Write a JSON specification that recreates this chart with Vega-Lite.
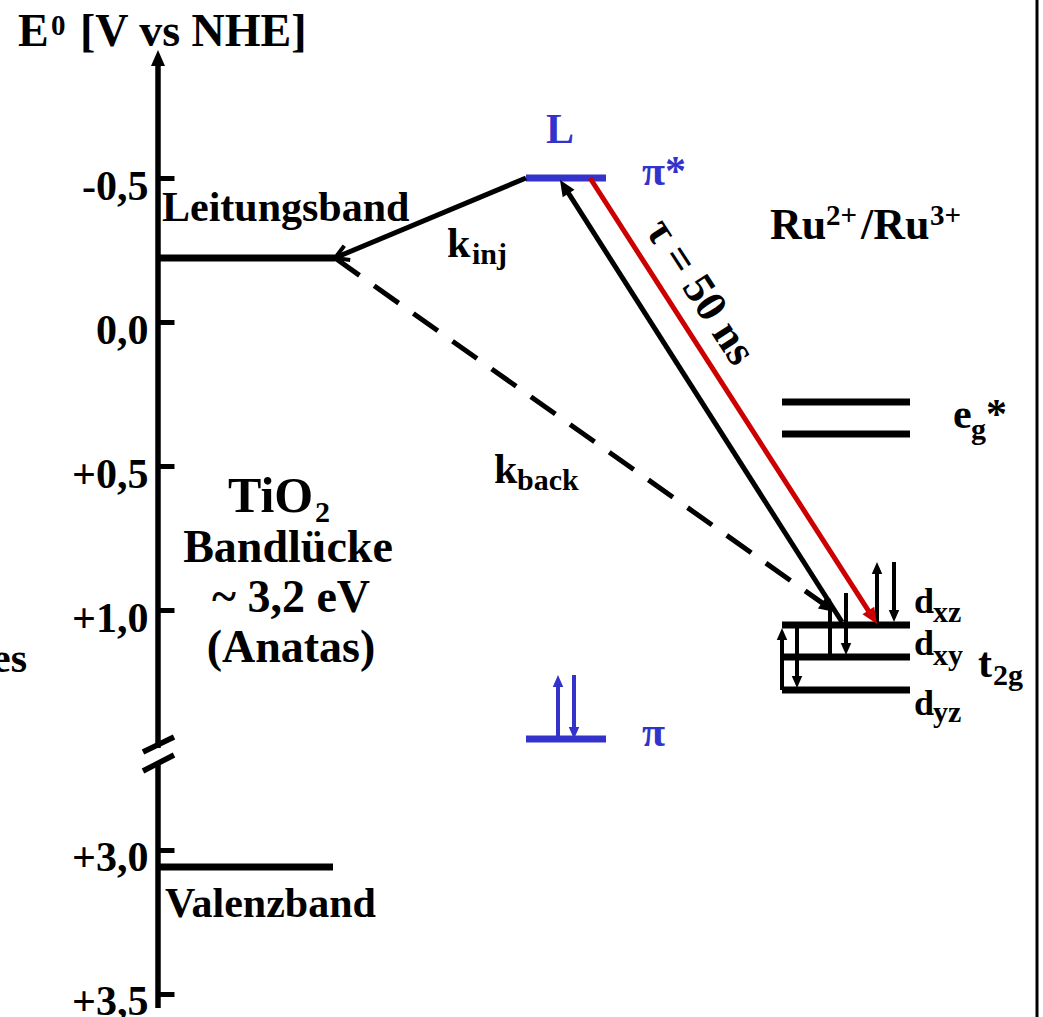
{
  "$schema": "https://vega.github.io/schema/vega-lite/v6.json",
  "width": 1043,
  "height": 1017,
  "padding": 0,
  "autosize": {"type": "none"},
  "background": "white",
  "config": {"view": {"stroke": null}},
  "datasets": {
    "seg": [
      {"g": "axis", "x": 158, "y": -0.9097, "x2": 158, "y2": 1.4792},
      {"g": "axis", "x": 158, "y": 1.5382, "x2": 158, "y2": 2.3819},
      {"g": "axis", "x": 143, "y": 1.4931, "x2": 174, "y2": 1.441},
      {"g": "axis", "x": 143, "y": 1.559, "x2": 174, "y2": 1.5035},
      {"g": "level", "x": 158, "y": -0.2222, "x2": 335, "y2": -0.2222},
      {"g": "level", "x": 158, "y": 1.8924, "x2": 333, "y2": 1.8924},
      {"g": "level", "x": 782, "y": 0.2778, "x2": 910, "y2": 0.2778},
      {"g": "level", "x": 782, "y": 0.3889, "x2": 910, "y2": 0.3889},
      {"g": "level", "x": 782, "y": 1.0521, "x2": 910, "y2": 1.0521},
      {"g": "level", "x": 782, "y": 1.1632, "x2": 910, "y2": 1.1632},
      {"g": "level", "x": 782, "y": 1.2778, "x2": 910, "y2": 1.2778},
      {"g": "blue", "x": 526, "y": -0.5, "x2": 606, "y2": -0.5},
      {"g": "blue", "x": 526, "y": 1.4479, "x2": 606, "y2": 1.4479},
      {"g": "arrow", "x": 526, "y": -0.5, "x2": 337, "y2": -0.2257},
      {"g": "arrow", "x": 842, "y": 1.0417, "x2": 564.3, "y2": -0.4698},
      {"g": "red", "x": 590, "y": -0.5, "x2": 872.7, "y2": 1.0253},
      {"g": "dash", "x": 335, "y": -0.2222, "x2": 828.5, "y2": 0.991},
      {"g": "spin", "x": 877, "y": 1.0521, "x2": 877, "y2": 0.8611},
      {"g": "spin", "x": 894, "y": 0.8333, "x2": 894, "y2": 1.0139},
      {"g": "spin", "x": 830, "y": 1.1632, "x2": 830, "y2": 0.9861},
      {"g": "spin", "x": 846, "y": 0.941, "x2": 846, "y2": 1.1285},
      {"g": "spin", "x": 782, "y": 1.2778, "x2": 782, "y2": 1.0903},
      {"g": "spin", "x": 797, "y": 1.0625, "x2": 797, "y2": 1.2431},
      {"g": "bspin", "x": 558, "y": 1.4479, "x2": 558, "y2": 1.2535},
      {"g": "bspin", "x": 574, "y": 1.2257, "x2": 574, "y2": 1.4201},
      {"g": "frame", "x": 1037, "y": -1.1181, "x2": 1037, "y2": 2.4132}
    ],
    "head": [
      {"g": "bk", "x": 158, "y": -0.9444, "a": 0},
      {"g": "bk", "x": 835, "y": 1.0069, "a": 125.3},
      {"g": "bk", "x": 560, "y": -0.4931, "a": 327.5},
      {"g": "rd", "x": 877, "y": 1.0486, "a": 147.2},
      {"g": "chev", "x": 335, "y": -0.2222, "a": 247.3},
      {"g": "bs", "x": 877, "y": 0.8333, "a": 0},
      {"g": "bs", "x": 894, "y": 1.0417, "a": 180},
      {"g": "bs", "x": 830, "y": 0.9583, "a": 0},
      {"g": "bs", "x": 846, "y": 1.1563, "a": 180},
      {"g": "bs", "x": 782, "y": 1.0625, "a": 0},
      {"g": "bs", "x": 797, "y": 1.2708, "a": 180},
      {"g": "bl", "x": 558, "y": 1.2257, "a": 0},
      {"g": "bl", "x": 574, "y": 1.4479, "a": 180}
    ],
    "txt": [
      {"g": "title", "t": "E", "x": 18, "y": -0.9583},
      {"g": "title", "t": "[V vs NHE]", "x": 80, "y": -0.9583},
      {"g": "sup", "t": "0", "x": 51, "y": -0.9965},
      {"g": "sup", "t": "2+", "x": 826, "y": -0.3368},
      {"g": "sup", "t": "3+", "x": 930, "y": -0.3368},
      {"g": "lab", "t": "Leitungsband", "x": 162, "y": -0.3507},
      {"g": "lab", "t": "Valenzband", "x": 165, "y": 2.066},
      {"g": "lab", "t": "k", "x": 447, "y": -0.2257},
      {"g": "lab", "t": "k", "x": 494, "y": 0.559},
      {"g": "ru", "t": "Ru", "x": 770, "y": -0.2882},
      {"g": "ru", "t": "/Ru", "x": 861, "y": -0.2882},
      {"g": "lab", "t": "e", "x": 953, "y": 0.3681},
      {"g": "lab", "t": "*", "x": 986, "y": 0.3681},
      {"g": "lab", "t": "t", "x": 978, "y": 1.2326},
      {"g": "lab", "t": "es", "x": -8, "y": 1.2153},
      {"g": "d", "t": "d", "x": 914, "y": 1.0104},
      {"g": "d", "t": "d", "x": 914, "y": 1.1563},
      {"g": "d", "t": "d", "x": 914, "y": 1.3646},
      {"g": "sub", "t": "inj", "x": 472, "y": -0.2014},
      {"g": "sub", "t": "back", "x": 517, "y": 0.5833},
      {"g": "sub", "t": "g", "x": 971, "y": 0.4063},
      {"g": "sub", "t": "2g", "x": 993, "y": 1.2604},
      {"g": "sub", "t": "xz", "x": 933, "y": 1.0417},
      {"g": "sub", "t": "xy", "x": 933, "y": 1.191},
      {"g": "sub", "t": "yz", "x": 933, "y": 1.3889},
      {"g": "sub", "t": "2", "x": 315, "y": 0.6944},
      {"g": "big", "t": "TiO", "x": 228, "y": 0.6597},
      {"g": "center", "t": "Bandlücke", "x": 288, "y": 0.8333},
      {"g": "center", "t": "~ 3,2 eV", "x": 291, "y": 1.0069},
      {"g": "center", "t": "(Anatas)", "x": 291, "y": 1.1806},
      {"g": "blue", "t": "L", "x": 546, "y": -0.6215},
      {"g": "blue", "t": "π*", "x": 642, "y": -0.4757},
      {"g": "blue", "t": "π", "x": 642, "y": 1.4722},
      {"g": "tau", "t": "τ = 50 ns", "x": 700, "y": -0.1042}
    ]
  },
  "encoding": {
    "x": {"field": "x", "type": "quantitative", "scale": {"domain": [0, 1043], "nice": false, "zero": false}, "axis": null},
    "y": {
      "field": "y", "type": "quantitative",
      "scale": {"domain": [-1.1181, 2.4132], "reverse": true, "nice": false, "zero": false},
      "axis": {
        "orient": "left", "offset": -158, "title": null, "domain": false, "grid": false,
        "values": [-0.5, 0, 0.5, 1, 1.8333, 2.3333],
        "labelExpr": "datum.value < -0.4 ? '-0,5' : datum.value < 0.25 ? '0,0' : datum.value < 0.75 ? '+0,5' : datum.value < 1.4 ? '+1,0' : datum.value < 2 ? '+3,0' : '+3,5'",
        "ticks": true, "tickSize": -16, "tickWidth": 5, "tickColor": "black",
        "labelFont": "Liberation Serif", "labelFontWeight": "bold", "labelFontSize": 42, "labelColor": "black",
        "labelPadding": 26, "labelOffset": 8, "labelBaseline": "middle", "labelAlign": "right"
      }
    }
  },
  "layer": [
    {"data": {"name": "seg"}, "transform": [{"filter": "datum.g == 'axis'"}], "mark": {"type": "rule", "color": "black", "strokeWidth": 5.5}, "encoding": {"x2": {"field": "x2"}, "y2": {"field": "y2"}}},
    {"data": {"name": "seg"}, "transform": [{"filter": "datum.g == 'level'"}], "mark": {"type": "rule", "color": "black", "strokeWidth": 7}, "encoding": {"x2": {"field": "x2"}, "y2": {"field": "y2"}}},
    {"data": {"name": "seg"}, "transform": [{"filter": "datum.g == 'blue'"}], "mark": {"type": "rule", "color": "#3333cc", "strokeWidth": 7}, "encoding": {"x2": {"field": "x2"}, "y2": {"field": "y2"}}},
    {"data": {"name": "seg"}, "transform": [{"filter": "datum.g == 'arrow'"}], "mark": {"type": "rule", "color": "black", "strokeWidth": 5}, "encoding": {"x2": {"field": "x2"}, "y2": {"field": "y2"}}},
    {"data": {"name": "seg"}, "transform": [{"filter": "datum.g == 'red'"}], "mark": {"type": "rule", "color": "#cc0000", "strokeWidth": 5}, "encoding": {"x2": {"field": "x2"}, "y2": {"field": "y2"}}},
    {"data": {"name": "seg"}, "transform": [{"filter": "datum.g == 'dash'"}], "mark": {"type": "rule", "color": "black", "strokeWidth": 5, "strokeDash": [30, 18]}, "encoding": {"x2": {"field": "x2"}, "y2": {"field": "y2"}}},
    {"data": {"name": "seg"}, "transform": [{"filter": "datum.g == 'spin'"}], "mark": {"type": "rule", "color": "black", "strokeWidth": 4}, "encoding": {"x2": {"field": "x2"}, "y2": {"field": "y2"}}},
    {"data": {"name": "seg"}, "transform": [{"filter": "datum.g == 'bspin'"}], "mark": {"type": "rule", "color": "#3333cc", "strokeWidth": 4}, "encoding": {"x2": {"field": "x2"}, "y2": {"field": "y2"}}},
    {"data": {"name": "seg"}, "transform": [{"filter": "datum.g == 'frame'"}], "mark": {"type": "rule", "color": "black", "strokeWidth": 3}, "encoding": {"x2": {"field": "x2"}, "y2": {"field": "y2"}}},
    {"data": {"name": "head"}, "transform": [{"filter": "datum.g == 'bk'"}], "mark": {"type": "point", "shape": "M0,0L0.875,2L-0.875,2Z", "filled": true, "color": "black", "opacity": 1, "size": 256, "strokeWidth": 0}, "encoding": {"angle": {"field": "a", "type": "quantitative", "scale": null}}},
    {"data": {"name": "head"}, "transform": [{"filter": "datum.g == 'rd'"}], "mark": {"type": "point", "shape": "M0,0L0.875,2L-0.875,2Z", "filled": true, "color": "#cc0000", "opacity": 1, "size": 256, "strokeWidth": 0}, "encoding": {"angle": {"field": "a", "type": "quantitative", "scale": null}}},
    {"data": {"name": "head"}, "transform": [{"filter": "datum.g == 'bs'"}], "mark": {"type": "point", "shape": "M0,0L0.875,2L-0.875,2Z", "filled": true, "color": "black", "opacity": 1, "size": 144, "strokeWidth": 0}, "encoding": {"angle": {"field": "a", "type": "quantitative", "scale": null}}},
    {"data": {"name": "head"}, "transform": [{"filter": "datum.g == 'bl'"}], "mark": {"type": "point", "shape": "M0,0L0.875,2L-0.875,2Z", "filled": true, "color": "#3333cc", "opacity": 1, "size": 144, "strokeWidth": 0}, "encoding": {"angle": {"field": "a", "type": "quantitative", "scale": null}}},
    {"data": {"name": "head"}, "transform": [{"filter": "datum.g == 'chev'"}], "mark": {"type": "point", "shape": "M1.1,1.9L0,0L-1.1,1.9", "filled": false, "color": "black", "opacity": 1, "size": 196, "strokeWidth": 4, "strokeCap": "butt"}, "encoding": {"angle": {"field": "a", "type": "quantitative", "scale": null}}},
    {"data": {"name": "txt"}, "transform": [{"filter": "datum.g == 'title'"}], "mark": {"type": "text", "font": "Liberation Serif", "fontWeight": "bold", "fontSize": 46, "align": "left", "baseline": "alphabetic", "color": "black"}, "encoding": {"text": {"field": "t"}}},
    {"data": {"name": "txt"}, "transform": [{"filter": "datum.g == 'sup'"}], "mark": {"type": "text", "font": "Liberation Serif", "fontWeight": "bold", "fontSize": 29, "align": "left", "baseline": "alphabetic", "color": "black"}, "encoding": {"text": {"field": "t"}}},
    {"data": {"name": "txt"}, "transform": [{"filter": "datum.g == 'lab'"}], "mark": {"type": "text", "font": "Liberation Serif", "fontWeight": "bold", "fontSize": 42, "align": "left", "baseline": "alphabetic", "color": "black"}, "encoding": {"text": {"field": "t"}}},
    {"data": {"name": "txt"}, "transform": [{"filter": "datum.g == 'ru'"}], "mark": {"type": "text", "font": "Liberation Serif", "fontWeight": "bold", "fontSize": 44, "align": "left", "baseline": "alphabetic", "color": "black"}, "encoding": {"text": {"field": "t"}}},
    {"data": {"name": "txt"}, "transform": [{"filter": "datum.g == 'd'"}], "mark": {"type": "text", "font": "Liberation Serif", "fontWeight": "bold", "fontSize": 36, "align": "left", "baseline": "alphabetic", "color": "black"}, "encoding": {"text": {"field": "t"}}},
    {"data": {"name": "txt"}, "transform": [{"filter": "datum.g == 'sub'"}], "mark": {"type": "text", "font": "Liberation Serif", "fontWeight": "bold", "fontSize": 30, "align": "left", "baseline": "alphabetic", "color": "black"}, "encoding": {"text": {"field": "t"}}},
    {"data": {"name": "txt"}, "transform": [{"filter": "datum.g == 'big'"}], "mark": {"type": "text", "font": "Liberation Serif", "fontWeight": "bold", "fontSize": 50, "align": "left", "baseline": "alphabetic", "color": "black"}, "encoding": {"text": {"field": "t"}}},
    {"data": {"name": "txt"}, "transform": [{"filter": "datum.g == 'center'"}], "mark": {"type": "text", "font": "Liberation Serif", "fontWeight": "bold", "fontSize": 46, "align": "center", "baseline": "alphabetic", "color": "black"}, "encoding": {"text": {"field": "t"}}},
    {"data": {"name": "txt"}, "transform": [{"filter": "datum.g == 'blue'"}], "mark": {"type": "text", "font": "Liberation Serif", "fontWeight": "bold", "fontSize": 42, "align": "left", "baseline": "alphabetic", "color": "#3333cc"}, "encoding": {"text": {"field": "t"}}},
    {"data": {"name": "txt"}, "transform": [{"filter": "datum.g == 'tau'"}], "mark": {"type": "text", "font": "Liberation Serif", "fontWeight": "bold", "fontSize": 44, "align": "center", "baseline": "middle", "angle": 57, "color": "black"}, "encoding": {"text": {"field": "t"}}}
  ]
}
